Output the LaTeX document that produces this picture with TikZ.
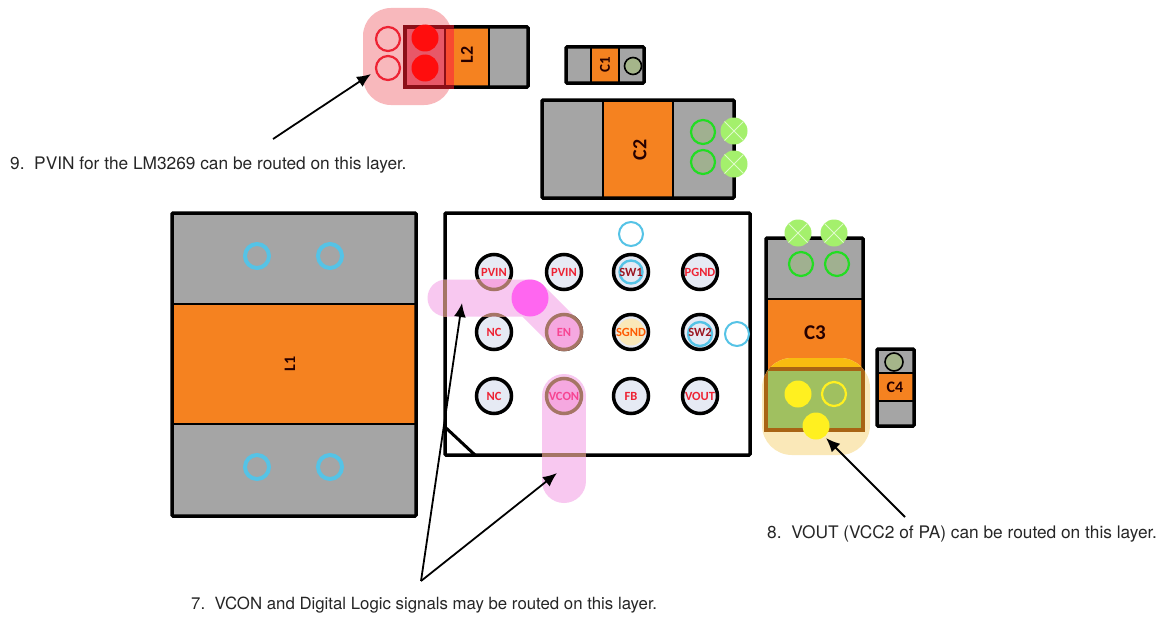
\documentclass[tikz,border=0pt]{standalone}
\usepackage{fontspec}
\setmainfont{Liberation Sans}
\newfontfamily\notefont{TeX Gyre Heros}
\newfontfamily\carlitofont{Carlito}
\usetikzlibrary{arrows.meta}
\definecolor{padgray}{HTML}{A5A5A5}
\definecolor{partorange}{HTML}{F58220}
\definecolor{padfill}{HTML}{E6EAF4}
\definecolor{viablue}{HTML}{55C3E6}
\definecolor{viagreen}{HTML}{22DD22}
\definecolor{viagreenfill}{HTML}{A0B090}
\definecolor{lightgreen}{HTML}{A4F06C}
\definecolor{padred}{HTML}{EE2233}
\definecolor{pinkbrown}{HTML}{A57565}
\definecolor{pinkarea}{HTML}{F8C8F0}
\definecolor{pinkin}{HTML}{F5A8E0}
\definecolor{magentaspot}{HTML}{FF66F0}
\definecolor{yellowblob}{HTML}{FAE8B8}
\definecolor{ambertop}{HTML}{F8BC10}
\definecolor{greenpad}{HTML}{A0C060}
\definecolor{brownedge}{HTML}{A86414}
\definecolor{viayellow}{HTML}{FFF020}
\definecolor{redblob}{HTML}{F8B8BC}
\definecolor{redpad}{HTML}{E85868}
\definecolor{redstrip}{HTML}{F84A30}
\definecolor{darkred}{HTML}{8C0F18}
\definecolor{c1via}{HTML}{A5B58A}
\tikzset{
 x=1pt,y=-1pt,
 outline/.style={draw=black,line width=3.5pt,rounded corners=1pt},
 divider/.style={draw=black,line width=2pt},
 partname/.style={font=\carlitofont\bfseries\fontsize{18}{18}\selectfont,text=black!85!red,inner sep=0pt},
 padpin/.style={circle,draw=black,line width=3.5pt,fill=padfill,minimum size=35pt,inner sep=0pt},
 pintext/.style={font=\carlitofont\bfseries\fontsize{12.5}{12.5}\selectfont,text=padred,inner sep=0pt},
 ring/.style={circle,draw=#1,line width=2.2pt,minimum size=24pt,inner sep=0pt},
 viafill/.style={circle,fill=#1,draw=none,minimum size=27pt,inner sep=0pt},
 note/.style={font=\notefont\fontsize{17.3}{18}\selectfont,text=black!85,anchor=west,inner sep=0pt},
 pointer/.style={draw=black,line width=1.8pt,-{Latex[length=14pt,width=12pt]}},
 crossvia/.style={circle,fill=lightgreen,draw=none,minimum size=27pt,inner sep=0pt,path picture={
   \draw[white!65!lightgreen,line width=.8pt] (path picture bounding box.north west)--(path picture bounding box.south east)
   (path picture bounding box.north east)--(path picture bounding box.south west);}},
}
\begin{document}
\begin{tikzpicture}
\useasboundingbox (0,0) rectangle (1166,618);
\fill[white] (0,0) rectangle (1166,618);
% L1
\fill[padgray] (172,213) rectangle (416,516);
\fill[partorange] (172,304) rectangle (416,424);
\draw[divider] (172,304)--(416,304) (172,424)--(416,424);
\draw[outline] (172,213) rectangle (416,516);
\node[partname,rotate=90,font=\carlitofont\bfseries\fontsize{16}{16}\selectfont] (l1) at (290,364) {L1};
\node[ring=viablue,line width=4pt] (l1a) at (257,256) {};
\node[ring=viablue,line width=4pt] (l1b) at (330,256) {};
\node[ring=viablue,line width=4pt] (l1c) at (257,467) {};
\node[ring=viablue,line width=4pt] (l1d) at (330,467) {};
% L2
\fill[padgray] (405,27) rectangle (528,87);
\fill[partorange] (445,27) rectangle (489,87);
\draw[divider] (445,27)--(445,87) (489,27)--(489,87);
\draw[outline] (405,27) rectangle (528,87);
\node[partname,rotate=90] (l2) at (467,55) {L2};
% red blob
\fill[redblob,rounded corners=28pt] (363,8) rectangle (452,105);
\fill[redpad] (405,27) rectangle (445,86);
\fill[redstrip] (445,27) rectangle (454,86);
\draw[darkred,line width=3.5pt] (454,27)--(405,27)--(405,87)--(454,87);
\draw[darkred,line width=2pt] (445,27)--(445,87);
\node[ring=padred] (r1) at (388,39) {};
\node[ring=padred] (r2) at (388,68) {};
\node[viafill=red!95!white] (r3) at (425,38) {};
\node[viafill=red!95!white] (r4) at (425,68) {};
% C1
\fill[padgray] (566,47) rectangle (644,83);
\fill[partorange] (591,47) rectangle (619,83);
\draw[divider] (591,47)--(591,83) (619,47)--(619,83);
\draw[outline] (566,47) rectangle (644,83);
\node[partname,rotate=90,font=\carlitofont\bfseries\fontsize{15}{15}\selectfont] (c1) at (605,65) {C1};
\node[circle,draw=black,fill=c1via,line width=1.6pt,minimum size=17pt,inner sep=0pt] (c1v) at (633,66) {};
% C2
\fill[padgray] (542,100) rectangle (734,198);
\fill[partorange] (603,100) rectangle (673,198);
\draw[divider] (603,100)--(603,198) (673,100)--(673,198);
\draw[outline] (542,100) rectangle (734,198);
\node[partname,rotate=90,font=\carlitofont\bfseries\fontsize{20}{20}\selectfont] (c2) at (640,150) {C2};
\node[ring=viagreen,fill=viagreenfill] (g1) at (703,132) {};
\node[ring=viagreen,fill=viagreenfill] (g2) at (703,162) {};
\node[crossvia] (g3) at (734,131) {};
\node[crossvia] (g4) at (734,164) {};
% C3
\fill[padgray] (766,238) rectangle (863,430);
\fill[partorange] (766,299) rectangle (863,369);
\draw[divider] (766,299)--(863,299);
\draw[outline] (766,238) rectangle (863,430);
\node[partname,font=\carlitofont\bfseries\fontsize{21}{21}\selectfont] (c3) at (815,333) {C3};
\node[ring=viagreen,fill=viagreenfill] (g5) at (801,264) {};
\node[ring=viagreen,fill=viagreenfill] (g6) at (837,264) {};
\node[crossvia] (g7) at (798,233) {};
\node[crossvia] (g8) at (834,233) {};
% yellow blob
\begin{scope}
\fill[yellowblob,rounded corners=30pt] (762,358) rectangle (870,455);
\clip[rounded corners=30pt] (762,358) rectangle (870,455);
\fill[ambertop] (767,358) rectangle (862,369);
\fill[greenpad] (766,369) rectangle (863,430);
\draw[brownedge,line width=3.5pt] (766,369) rectangle (863,430);
\end{scope}
\node[viafill=viayellow] (y1) at (798,394) {};
\node[ring=viayellow] (y2) at (834,394) {};
\node[viafill=viayellow] (y3) at (816,426) {};
% C4
\fill[padgray] (877,349) rectangle (914,426);
\fill[partorange] (877,373) rectangle (914,401);
\draw[divider] (877,373)--(914,373) (877,401)--(914,401);
\draw[outline] (877,349) rectangle (914,426);
\node[partname,font=\carlitofont\bfseries\fontsize{16}{16}\selectfont] (c4) at (895,387) {C4};
\node[circle,draw=black,fill=c1via,line width=1.6pt,minimum size=18pt,inner sep=0pt] (c4v) at (894,362) {};
% IC
\draw[outline] (445,213) rectangle (750,455);
\draw[black,line width=3pt] (445,427)--(475,455);
\node[padpin] (p1) at (494,272) {};
\node[padpin] (p2) at (564,272) {};
\node[padpin] (p3) at (631,272) {};
\node[padpin] (p4) at (700,272) {};
\node[padpin] (p5) at (494,332) {};
\node[padpin] (p6) at (564,332) {};
\node[padpin] (p7) at (631,332) {};
\node[padpin] (p8) at (700,332) {};
\node[padpin] (p9) at (494,396) {};
\node[padpin] (p10) at (564,396) {};
\node[padpin] (p11) at (631,396) {};
\node[padpin] (p12) at (700,396) {};
\node[circle,fill=yellowblob,minimum size=27pt,inner sep=0pt] (sg) at (631,332) {};
% pink routes
\draw[pinkarea,line width=37pt,line cap=round,line join=round] (446,298)--(530,298)--(564,332);
\draw[pinkarea,line width=44pt,line cap=round] (564,396)--(564,481);
\fill[pinkin] (564,332) circle[radius=18];
\fill[pinkin] (564,396) circle[radius=18];
\begin{scope}
\clip (470,279.5) rectangle (520,316.5);
\fill[pinkin] (494,272) circle[radius=18];
\draw[pinkbrown,line width=3.5pt] (494,272) circle[radius=17.5];
\draw[pinkbrown,line width=3.5pt] (494,332) circle[radius=17.5];
\end{scope}
\draw[pinkbrown,line width=3.5pt] (564,332) circle[radius=17.5];
\draw[pinkbrown,line width=3.5pt] (564,396) circle[radius=17.5];
\draw[pinkbrown,line width=3.5pt] (445,279.5)--(445,316.5);
\draw[pinkbrown,line width=3.5pt] (542,455)--(586,455);
\node[circle,fill=magentaspot,minimum size=37pt,inner sep=0pt] (spot) at (530,298) {};
% blue vias
\node[ring=viablue,line width=2pt,minimum size=24pt] (b1) at (631,234) {};
\node[ring=viablue,line width=2.4pt,minimum size=23pt] (b2) at (631,272) {};
\node[ring=viablue,line width=2.4pt,minimum size=24pt] (b3) at (700,334) {};
\node[ring=viablue,line width=2pt,minimum size=24pt] (b4) at (737,334) {};
% pin labels
\node[pintext] at (p1) {PVIN};
\node[pintext] at (p2) {PVIN};
\node[pintext,text=padred!65!black] at (p3) {SW1};
\node[pintext] at (p4) {PGND};
\node[pintext] at (p5) {NC};
\node[pintext,text=magentaspot!50!padred] at (p6) {EN};
\node[pintext,text=orange!70!red] at (p7) {SGND};
\node[pintext,text=padred!65!black] at (p8) {SW2};
\node[pintext] at (p9) {NC};
\node[pintext,text=magentaspot!50!padred] at (p10) {VCON};
\node[pintext] at (p11) {FB};
\node[pintext] at (p12) {VOUT};
% notes
\node[note] (n9) at (10,165) {9.\ \ PVIN for the LM3269 can be routed on this layer.};
\node[note] (n8) at (767,534) {8.\ \ VOUT (VCC2 of PA) can be routed on this layer.};
\node[note,font=\notefont\fontsize{16.8}{18}\selectfont] (n7) at (191,605) {7.\ \ VCON and Digital Logic signals may be routed on this layer.};
\coordinate (a9s) at (273,139);
\coordinate (a9e) at (371,74);
\coordinate (a8s) at (905,517);
\coordinate (a8e) at (826,438);
\coordinate (a7s) at (421,581);
\coordinate (a7a) at (462,303);
\coordinate (a7b) at (557,473);
\draw[pointer] (a9s)--(a9e);
\draw[pointer] (a8s)--(a8e);
\draw[pointer] (a7s)--(a7a);
\draw[pointer] (a7s)--(a7b);
\end{tikzpicture}
\end{document}
